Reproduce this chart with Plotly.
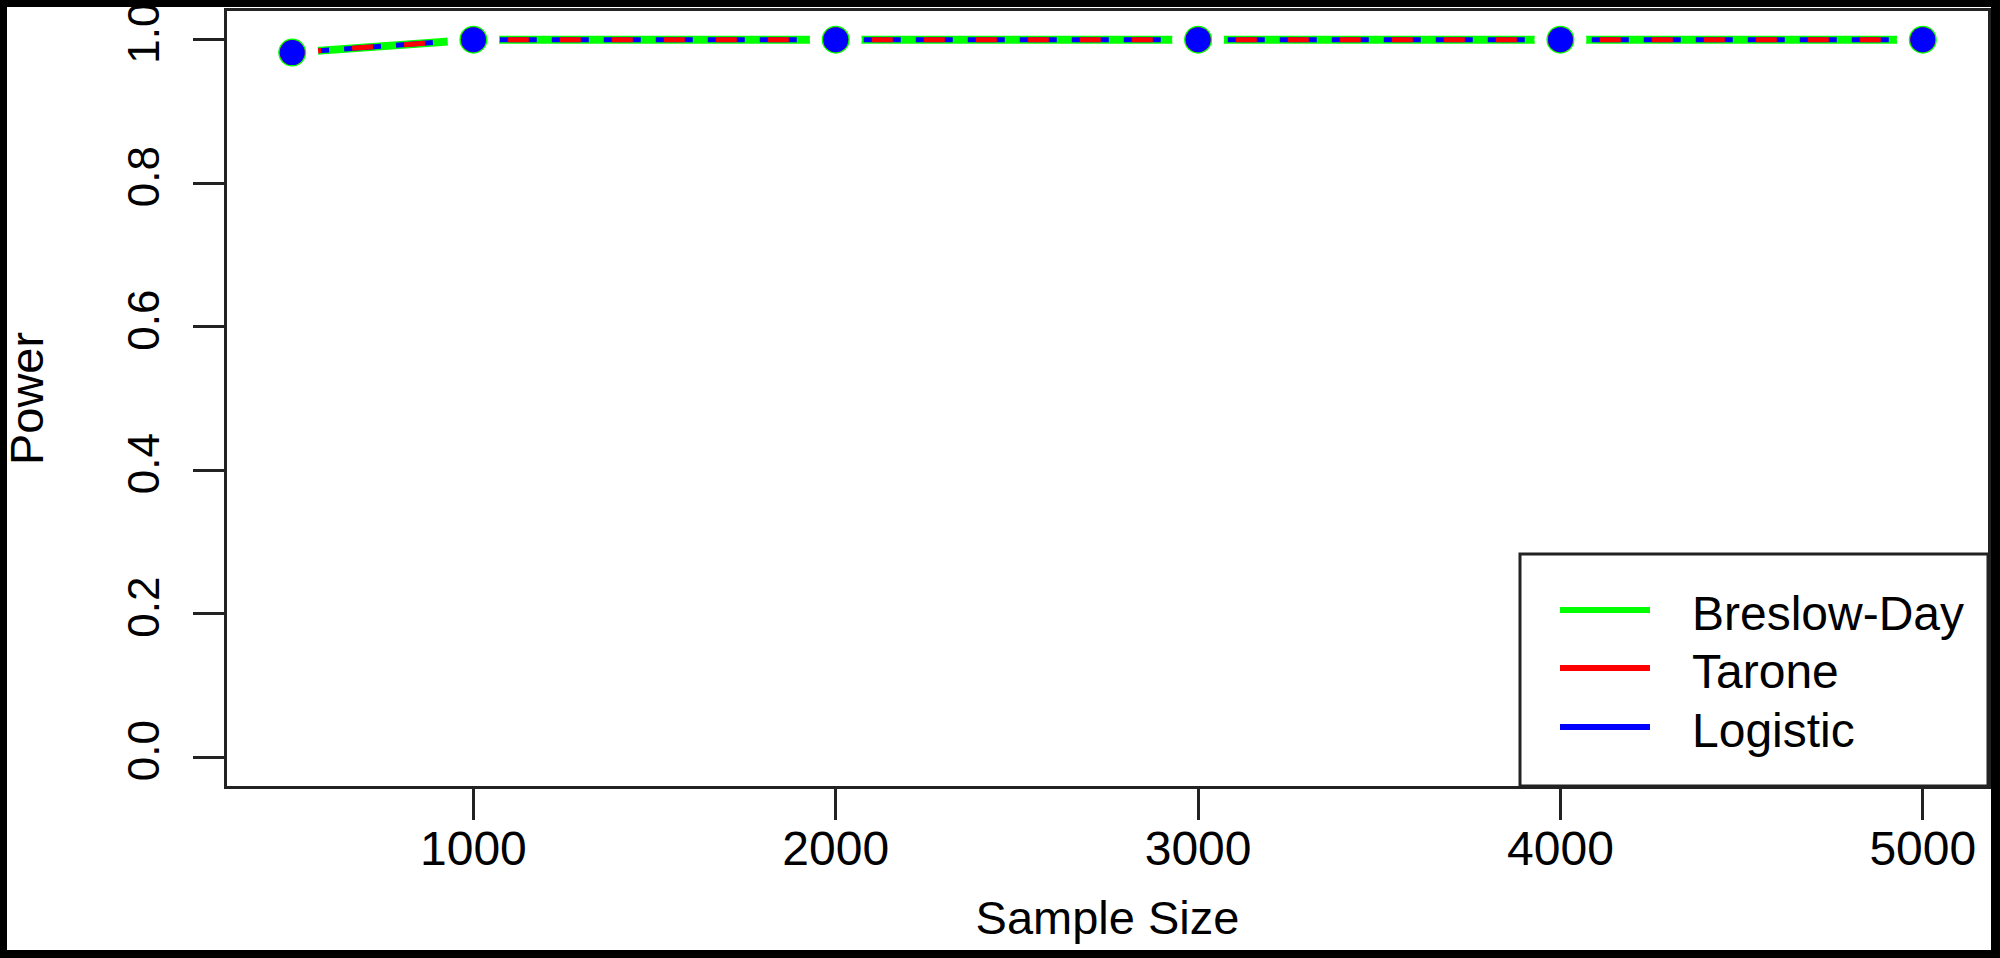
import plotly.graph_objects as go

# ---- data ----
sample_size = [500, 1000, 2000, 3000, 4000, 5000]
power_breslow_day = [0.982, 1.0, 1.0, 1.0, 1.0, 1.0]
power_tarone = [0.982, 1.0, 1.0, 1.0, 1.0, 1.0]
power_logistic = [0.982, 1.0, 1.0, 1.0, 1.0, 1.0]

x_ticks = [1000, 2000, 3000, 4000, 5000]
y_ticks = [0.0, 0.2, 0.4, 0.6, 0.8, 1.0]

series_names = ["Breslow-Day", "Tarone", "Logistic"]
series_colors = ["#00FF00", "#FF0000", "#0000FF"]

W, H = 2000, 958
L, R, T, B = 227, 12, 11, 172
PW, PH = W - L - R, H - T - B
FONT = "Liberation Sans, Arial, Helvetica, sans-serif"


def px(xp):
    return (xp - L) / PW


def py(yp):
    return (H - B - yp) / PH


fig = go.Figure()

# lines
series = [power_breslow_day, power_tarone, power_logistic]
line_styles = [
    dict(color=series_colors[0], width=8),
    dict(color=series_colors[2], width=5, dash="37px,15px"),
    dict(color=series_colors[1], width=5, dash="0px,8px,21px,23px"),
]
order = [0, 2, 1]
for k, idx in enumerate(order):
    fig.add_trace(go.Scatter(x=sample_size, y=series[idx], mode="lines",
                             line=line_styles[k], showlegend=False,
                             name=series_names[idx], hoverinfo="skip"))

# gaps around points (type="b" look)
fig.add_trace(go.Scatter(x=sample_size, y=power_logistic, mode="markers",
                         marker=dict(color="white", size=52, line=dict(width=0)),
                         showlegend=False, hoverinfo="skip"))

# points
marker_sizes = [28, 25, 25]
for i in range(3):
    fig.add_trace(go.Scatter(x=sample_size, y=series[i], mode="markers",
                             marker=dict(color=series_colors[i], size=marker_sizes[i],
                                         line=dict(width=0)),
                             name=series_names[i], showlegend=False))

shapes = [
    # white page inside black frame
    dict(type="rect", xref="paper", yref="paper", layer="below",
         x0=px(7), x1=px(1991), y0=py(950), y1=py(7),
         fillcolor="white", line=dict(width=0)),
    # legend box
    dict(type="rect", xref="paper", yref="paper", layer="above",
         x0=px(1520), x1=1, y0=0, y1=py(554),
         fillcolor="white", line=dict(color="#222222", width=3)),
]
annotations = []
legend_rows = [610, 668, 727]
for i in range(3):
    shapes.append(dict(type="line", xref="paper", yref="paper",
                       x0=px(1560), x1=px(1650), y0=py(legend_rows[i]), y1=py(legend_rows[i]),
                       line=dict(color=series_colors[i], width=6)))
    annotations.append(dict(xref="paper", yref="paper", x=px(1690), y=py(legend_rows[i] + 3),
                            xanchor="left", yanchor="middle", showarrow=False,
                            text=series_names[i],
                            font=dict(family=FONT, size=48, color="black")))

fig.update_layout(
    width=W, height=H,
    margin=dict(l=L, r=R, t=T, b=B, autoexpand=False),
    paper_bgcolor="black",
    plot_bgcolor="white",
    font=dict(family=FONT, color="black"),
    shapes=shapes,
    annotations=annotations,
    showlegend=False,
)

fig.update_xaxes(
    range=[320, 5180], tickvals=x_ticks, ticktext=[str(v) for v in x_ticks],
    showgrid=False, zeroline=False,
    showline=True, mirror=True, linecolor="#222222", linewidth=3,
    ticks="outside", ticklen=31, tickwidth=3, tickcolor="#222222",
    ticklabelstandoff=-13,
    tickfont=dict(family=FONT, size=48, color="black"),
    title=dict(text="Sample Size", font=dict(family=FONT, size=47, color="black"), standoff=28),
    automargin=False,
)
fig.update_yaxes(
    range=[-0.04, 1.04], tickvals=y_ticks, ticktext=[f"{v:.1f}" for v in y_ticks],
    showgrid=False, zeroline=False,
    showline=True, mirror=True, linecolor="#222222", linewidth=3,
    ticks="outside", ticklen=31, tickwidth=3, tickcolor="#222222",
    tickangle=-90, ticklabelstandoff=16, ticklabeloverflow="allow",
    tickfont=dict(family=FONT, size=44, color="black"),
    title=dict(text="Power", font=dict(family=FONT, size=47, color="black"), standoff=68),
    automargin=False,
)

fig.write_html("out.html", config={"displayModeBar": False},
               post_script="document.body.style.margin='0px';")
